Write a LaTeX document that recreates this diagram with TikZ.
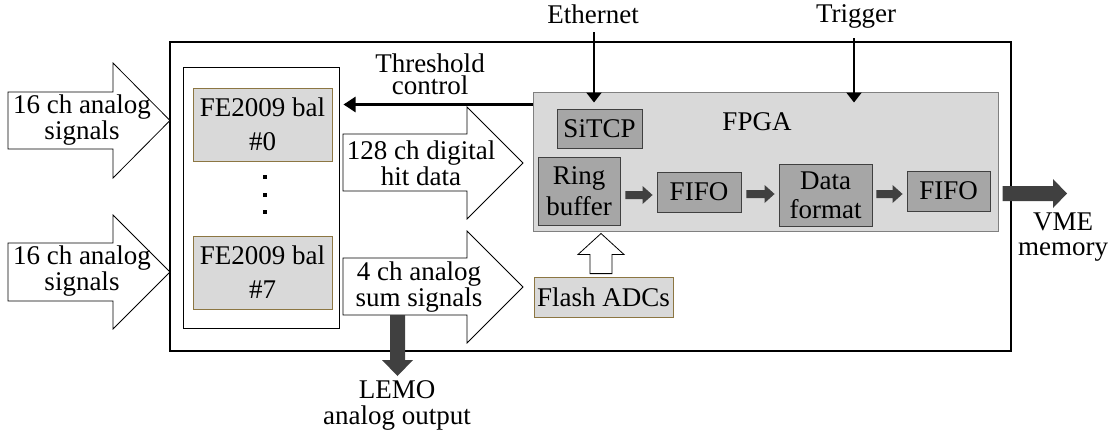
\documentclass[tikz,border=0pt]{standalone}
\usepackage{fontspec}
\setmainfont{Liberation Serif}
\usetikzlibrary{arrows.meta,calc}
\definecolor{lightg}{RGB}{217,217,217}
\definecolor{midg}{RGB}{166,166,166}
\definecolor{darkg}{RGB}{64,64,64}
\definecolor{feborder}{RGB}{140,118,66}
\definecolor{fpgaborder}{RGB}{128,128,128}
\begin{document}
\begin{tikzpicture}[x=1pt,y=-1pt,
  txt/.style={font=\fontsize{27}{26}\selectfont, inner sep=0pt, align=center, anchor=base},
  lbox/.style={draw=feborder, fill=lightg, line width=0.8pt, inner sep=0pt, align=center},
  dbox/.style={draw=darkg, fill=midg, line width=0.9pt, inner sep=0pt, align=center, font=\fontsize{27}{26}\selectfont},
  hollow/.style={draw=black, fill=white, line width=0.8pt},
  harr/.style n args={3}{draw=none, fill=darkg, to path={let \p1=(\tikztostart), \p2=(\tikztotarget) in
     (\x1,\y1+#1/2) -- (\x2-#3,\y1+#1/2) -- (\x2-#3,\y1+#2/2) -- (\x2,\y1) -- (\x2-#3,\y1-#2/2) -- (\x2-#3,\y1-#1/2) -- (\x1,\y1-#1/2) -- cycle}},
  uparr/.style n args={3}{draw=none, fill=darkg, to path={let \p1=(\tikztostart), \p2=(\tikztotarget) in
     (\x1-#1/2,\y1) -- (\x1-#1/2,\y2-#3) -- (\x1-#2/2,\y2-#3) -- (\x1,\y2) -- (\x1+#2/2,\y2-#3) -- (\x1+#1/2,\y2-#3) -- (\x1+#1/2,\y1) -- cycle}},
  dnarr/.style n args={3}{draw=none, fill=darkg, to path={let \p1=(\tikztostart), \p2=(\tikztotarget) in
     (\x1-#1/2,\y1) -- (\x1-#1/2,\y2+#3) -- (\x1-#2/2,\y2+#3) -- (\x1,\y2) -- (\x1+#2/2,\y2+#3) -- (\x1+#1/2,\y2+#3) -- (\x1+#1/2,\y1) -- cycle}},
  thinarr/.style={line width=2.2pt, -{Triangle[length=10pt,width=15pt]}},
  thickarr/.style={line width=2.5pt, -{Triangle[length=12pt,width=15pt]}}
]
\useasboundingbox (0,0) rectangle (1118,434);

% main board
\node[draw=black, line width=1.3pt, minimum width=841pt, minimum height=309pt, inner sep=0pt] (board) at (590.5,196.5) {};

% FE container and chips
\node[draw=black, line width=1pt, minimum width=156pt, minimum height=261pt, inner sep=0pt] (fecont) at (261,197.5) {};
\node[lbox, minimum width=139pt, minimum height=73pt, font=\fontsize{27}{34}\selectfont] (fe0) at (262.5,124.5) {FE2009 bal\\\#0};
\node[lbox, minimum width=139pt, minimum height=73pt, font=\fontsize{27}{34}\selectfont] (fe7) at (262.5,272.5) {FE2009 bal\\\#7};
\fill (263,175) rectangle (267,179);
\fill (263,193) rectangle (267,197);
\fill (263,210) rectangle (267,214);

% input arrows
\draw[hollow] (8,92) -- (113,92) -- (113,63) -- (170,120.5) -- (113,178) -- (113,149) -- (8,149) -- cycle;
\draw[hollow] (8,243) -- (113,243) -- (113,215) -- (170,272) -- (113,329) -- (113,301) -- (8,301) -- cycle;
\node[txt] (in1) at (82,139) {16 ch analog\\signals};
\node[txt] (in2) at (82,290) {16 ch analog\\signals};

% hit data and sum arrows
\draw[hollow] (343,134) -- (467,134) -- (467,107) -- (523,163) -- (467,219) -- (467,191) -- (343,191) -- cycle;
\draw[hollow] (343,258) -- (467,258) -- (467,231) -- (523,287) -- (467,343) -- (467,315) -- (343,315) -- cycle;
\node[txt] (hit) at (421,185) {128 ch digital\\hit data};
\node[txt] (sum) at (419,306) {4 ch analog\\sum signals};

% FPGA
\node[draw=fpgaborder, fill=lightg, line width=1pt, minimum width=465pt, minimum height=139pt, inner sep=0pt] (fpga) at (765.5,161.5) {};
\node[txt] (fpgalbl) at (757,130) {FPGA};
\node[dbox, minimum width=85pt, minimum height=39pt] (sitcp) at (599.5,128.5) {SiTCP};
\node[dbox, minimum width=82pt, minimum height=68pt, font=\fontsize{27}{31}\selectfont] (ring) at (579,191) {Ring\\buffer};
\node[dbox, minimum width=84pt, minimum height=40pt] (fifo1) at (699,192) {FIFO};
\node[dbox, minimum width=93pt, minimum height=62pt, font=\fontsize{27}{29}\selectfont] (data) at (825.5,195) {Data\\format};
\node[dbox, minimum width=83pt, minimum height=40pt] (fifo2) at (948.5,191) {FIFO};

\path[harr={8pt}{18pt}{10pt}] ([xshift=5pt,yshift=-4pt]ring.east) to ([xshift=-4pt]fifo1.west);
\path[harr={8pt}{18pt}{10pt}] ([xshift=5pt,yshift=-2pt]fifo1.east) to ([xshift=-4pt]data.west);
\path[harr={8pt}{18pt}{10pt}] ([xshift=4pt,yshift=1pt]data.east) to ([xshift=-4pt]fifo2.west);

% Flash ADCs
\node[lbox, minimum width=139pt, minimum height=40pt, font=\fontsize{27}{26}\selectfont] (flash) at (603.5,297) {Flash ADCs};
\path[uparr={22pt}{46pt}{21pt}, draw=black, fill=white, line width=0.8pt] ([xshift=-2.5pt,yshift=3pt]flash.north) to ([yshift=-2pt]fpga.south);

% Threshold control
\node[txt, font=\fontsize{27}{22.6}\selectfont] (thr) at (430,94.6) {Threshold\\control};
\draw[thickarr] ([yshift=-13pt]fpga.north west) -- ([yshift=-13pt,xshift=4pt]fpga.north west -| fecont.east);

% Ethernet and Trigger
\node[txt] (eth) at (593,23) {Ethernet};
\node[txt] (trig) at (856,22) {Trigger};
\draw[thinarr] ([xshift=1pt,yshift=-9pt]eth.south) -- ([xshift=1pt,yshift=-11pt]eth.south |- fpga.north);
\draw[thinarr] ([xshift=-2pt,yshift=-10pt]trig.south) -- ([xshift=-2pt,yshift=-11pt]trig.south |- fpga.north);

% VME output
\coordinate (vmetip) at (1067,193.5);
\path[harr={15pt}{29pt}{14pt}] ([xshift=4pt,yshift=-32pt]fpga.east) to (vmetip);
\node[txt, font=\fontsize{27}{25}\selectfont] (vme) at (1063,255) {VME\\memory};

% LEMO output
\coordinate (sumbot) at (397.5,315);
\coordinate (lemotip) at (397.5,376);
\path[dnarr={15pt}{31pt}{16pt}] (sumbot) to (lemotip);
\node[txt] (lemo) at (397,424) {LEMO\\analog output};
\end{tikzpicture}
\end{document}
